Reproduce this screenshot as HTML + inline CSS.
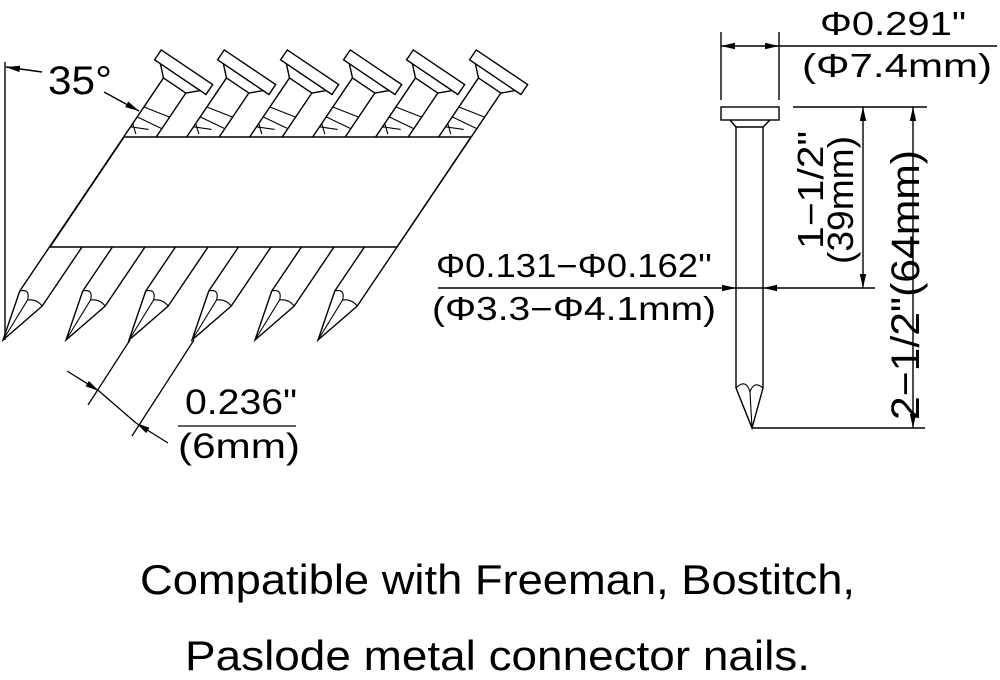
<!DOCTYPE html>
<html><head><meta charset="utf-8"><style>
html,body{margin:0;padding:0;background:#fff;}
svg{display:block;}
text{font-family:"Liberation Sans",sans-serif;fill:#000;}
</style></head><body>
<svg width="1000" height="680" viewBox="0 0 1000 680" xmlns="http://www.w3.org/2000/svg">
<defs>
<g id="nail" fill="none" stroke="#000" stroke-width="1.4">
  <path d="M-13.5,-50 L0,0 L13.5,-50"/>
  <path d="M-13.5,-50 Q-6,-58 -2,-47 L0,0 M13.5,-50 Q5,-53 -2,-47" stroke-width="1.1"/>
  <path d="M-13.5,-50 L-13.5,-307 M13.5,-50 L13.5,-307"/>
  <path d="M-13.5,-307 L-24,-317 M13.5,-307 L24,-317 M-13.5,-307 L13.5,-307"/>
  <rect x="-31" y="-329" width="62" height="12" fill="#fff"/>
  <path d="M-13.5,-248 L3,-256 M-13.5,-260 L13.5,-264 M-13.5,-272 L13.5,-278 M-13.5,-252 L-5,-245" stroke-width="1.1"/>
</g>
<marker id="ah" viewBox="0 0 14 8" refX="14" refY="4" markerWidth="14" markerHeight="8" markerUnits="userSpaceOnUse" orient="auto">
  <path d="M0,0.8 L14,4 L0,7.2 Z" fill="#000"/>
</marker>
</defs>

<g>
  <use href="#nail" transform="translate(3,340) rotate(34)"/>
  <use href="#nail" transform="translate(66,340) rotate(34)"/>
  <use href="#nail" transform="translate(129,340) rotate(34)"/>
  <use href="#nail" transform="translate(192,340) rotate(34)"/>
  <use href="#nail" transform="translate(255,340) rotate(34)"/>
  <use href="#nail" transform="translate(318,340) rotate(34)"/>
</g>
<polygon points="124,137 471,137 397,247 50,247" fill="#fff" stroke="#000" stroke-width="1.5"/>

<g stroke="#000" stroke-width="1.4" fill="none">
  <line x1="5" y1="62" x2="5" y2="340"/>
  <line x1="42" y1="72" x2="6" y2="67" marker-end="url(#ah)"/>
  <line x1="104" y1="92" x2="139" y2="111" marker-end="url(#ah)"/>
</g>
<text x="48" y="94" font-size="40" textLength="64" lengthAdjust="spacingAndGlyphs">35°</text>

<g stroke="#000" stroke-width="1.3" fill="none">
  <line x1="130" y1="340" x2="88" y2="405"/>
  <line x1="194" y1="340" x2="132" y2="436"/>
  <line x1="67" y1="371" x2="99" y2="391" marker-end="url(#ah)"/>
  <line x1="168" y1="443" x2="136" y2="423" marker-end="url(#ah)"/>
  <line x1="99" y1="391" x2="136" y2="423"/>
  <line x1="178" y1="426" x2="296" y2="426"/>
</g>
<text x="185" y="414" font-size="35" textLength="112" lengthAdjust="spacingAndGlyphs">0.236"</text>
<text x="178" y="458" font-size="35" textLength="122" lengthAdjust="spacingAndGlyphs">(6mm)</text>

<g stroke="#000" stroke-width="1.4" fill="none">
  <rect x="721" y="107" width="58" height="13" fill="#fff"/>
  <path d="M730,120 L736,127 L763,127 L770,120"/>
  <path d="M736,127 L736,388 M763,127 L763,388"/>
  <path d="M736,388 L752,428 L763,388"/>
  <path d="M736,388 Q746,378 750,392 L752,428 M763,388 Q754,380 750,392" stroke-width="1.1"/>
  <line x1="721" y1="32" x2="721" y2="100"/>
  <line x1="779" y1="32" x2="779" y2="100"/>
  <line x1="750" y1="46" x2="721" y2="46" marker-end="url(#ah)"/>
  <line x1="750" y1="46" x2="779" y2="46" marker-end="url(#ah)"/>
  <line x1="779" y1="46" x2="997" y2="46"/>
  <line x1="793" y1="107" x2="927" y2="107"/>
  <line x1="863" y1="197" x2="863" y2="107" marker-end="url(#ah)"/>
  <line x1="863" y1="197" x2="863" y2="288" marker-end="url(#ah)"/>
  <line x1="913" y1="268" x2="913" y2="107" marker-end="url(#ah)"/>
  <line x1="913" y1="268" x2="913" y2="428" marker-end="url(#ah)"/>
  <line x1="752" y1="428" x2="925" y2="428"/>
  <line x1="438" y1="288" x2="736" y2="288" marker-end="url(#ah)"/>
  <line x1="875" y1="288" x2="763" y2="288" marker-end="url(#ah)"/>
  <line x1="736" y1="288" x2="763" y2="288"/>
</g>
<text x="820" y="35" font-size="33" textLength="146" lengthAdjust="spacingAndGlyphs">Φ0.291"</text>
<text x="802" y="77" font-size="33" textLength="190" lengthAdjust="spacingAndGlyphs">(Φ7.4mm)</text>
<text x="436" y="277" font-size="33" textLength="276" lengthAdjust="spacingAndGlyphs">Φ0.131−Φ0.162''</text>
<text x="432" y="320" font-size="33" textLength="284" lengthAdjust="spacingAndGlyphs">(Φ3.3−Φ4.1mm)</text>
<text transform="translate(823,190) rotate(-90)" text-anchor="middle" font-size="36" textLength="118" lengthAdjust="spacingAndGlyphs">1−1/2"</text>
<text transform="translate(853,200) rotate(-90)" text-anchor="middle" font-size="36" textLength="128" lengthAdjust="spacingAndGlyphs">(39mm)</text>
<text transform="translate(919,285) rotate(-90)" text-anchor="middle" font-size="40" textLength="270" lengthAdjust="spacingAndGlyphs">2−1/2"(64mm)</text>

<text x="140" y="594" font-size="42" textLength="715" lengthAdjust="spacingAndGlyphs">Compatible with Freeman, Bostitch,</text>
<text x="185" y="670" font-size="42" textLength="625" lengthAdjust="spacingAndGlyphs">Paslode metal connector nails.</text>
</svg>
</body></html>
